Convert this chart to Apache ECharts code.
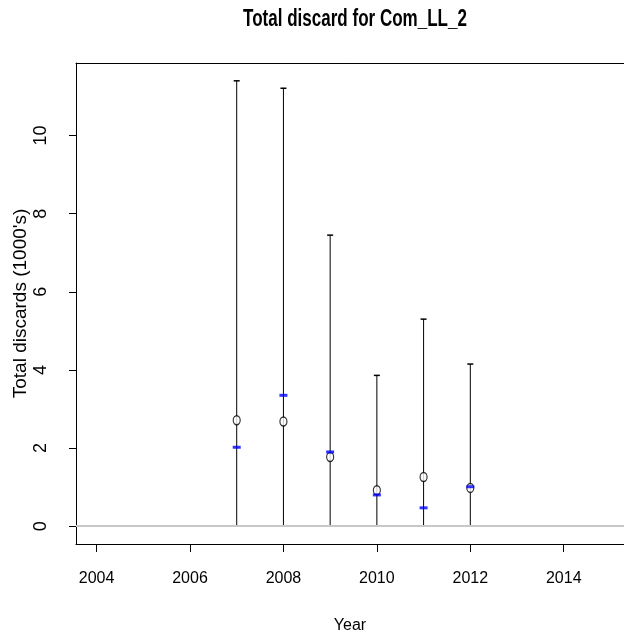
<!DOCTYPE html>
<html>
<head>
<meta charset="utf-8">
<script src="https://cdn.jsdelivr.net/npm/echarts@6/dist/echarts.min.js"></script>
<style>html,body{margin:0;padding:0;background:#fff}#c{width:624px;height:638px}</style>
</head>
<body>
<div id="c"></div>
<script>
var years = [2007, 2008, 2009, 2010, 2011, 2012];
var estimate = [2.71, 2.68, 1.77, 0.92, 1.26, 0.98];
var upper = [11.40, 11.21, 7.45, 3.86, 5.30, 4.15];
var lower = [0, 0, 0, 0, 0, 0];
var observed = [2.02, 3.35, 1.90, 0.80, 0.47, 1.01];
var xTicks = [2004, 2006, 2008, 2010, 2012, 2014];
var yTicks = [0, 2, 4, 6, 8, 10];

var sans = '"Liberation Sans", Arial, sans-serif';
var XMIN = 2003.56, XMAX = 2015.29;

var chart = echarts.init(document.getElementById('c'), null, {renderer: 'canvas'});

var barData = years.map(function (y, i) { return [y, lower[i], upper[i]]; });
var estData = years.map(function (y, i) { return [y, estimate[i]]; });
var obsData = years.map(function (y, i) { return [y, observed[i]]; });

chart.setOption({
  animation: false,
  backgroundColor: '#fff',
  graphic: [{
    type: 'text', x: 355, y: 20, scaleX: 0.74,
    style: {text: 'Total discard for Com_LL_2', font: 'bold 23px ' + sans, fill: '#000', textAlign: 'center', textVerticalAlign: 'middle'}
  }],
  grid: {left: 76, right: 0, top: 63, bottom: 94, show: false, containLabel: false, outerBoundsMode: 'none'},
  xAxis: [{
    type: 'value', min: XMIN, max: XMAX, position: 'bottom',
    name: 'Year', nameLocation: 'middle', nameGap: 74, nameMoveOverlap: false,
    nameTextStyle: {fontFamily: sans, fontSize: 16, color: '#000'},
    axisLine: {show: true, onZero: false, lineStyle: {color: '#000', width: 1}},
    axisTick: {show: true, length: 8, customValues: xTicks, lineStyle: {color: '#000'}},
    axisLabel: {customValues: xTicks, margin: 27, fontFamily: sans, fontSize: 16, color: '#000',
      formatter: function (v) { return String(v); }},
    splitLine: {show: false}
  }, {
    type: 'value', min: XMIN, max: XMAX, position: 'top',
    axisLine: {show: true, onZero: false, lineStyle: {color: '#000', width: 1}},
    axisTick: {show: false}, axisLabel: {show: false}, splitLine: {show: false}
  }],
  yAxis: {
    type: 'value', min: -0.456, max: 11.856,
    name: "Total discards (1000's)", nameLocation: 'middle', nameGap: 46, nameRotate: 90, nameMoveOverlap: false,
    nameTextStyle: {fontFamily: sans, fontSize: 19, color: '#000'},
    axisLine: {show: true, onZero: false, lineStyle: {color: '#000', width: 1}},
    axisTick: {show: true, length: 7, customValues: yTicks, lineStyle: {color: '#000'}},
    axisLabel: {customValues: yTicks, rotate: 90, margin: 26, fontFamily: sans, fontSize: 18, color: '#000'},
    splitLine: {show: false}
  },
  series: [
    {
      type: 'custom',
      data: barData,
      encode: {x: 0, y: [1, 2]},
      z: 2,
      renderItem: function (params, api) {
        var x = api.value(0);
        var lo = api.coord([x, api.value(1)]);
        var hi = api.coord([x, api.value(2)]);
        var cap = 3;
        return {
          type: 'group',
          children: [
            {type: 'line', shape: {x1: lo[0], y1: lo[1], x2: hi[0], y2: hi[1]}, style: {stroke: '#000', lineWidth: 1}},
            {type: 'line', shape: {x1: hi[0] - cap, y1: hi[1], x2: hi[0] + cap, y2: hi[1]}, style: {stroke: '#000', lineWidth: 1.5}}
          ]
        };
      },
      markLine: {
        silent: true, symbol: ['none', 'none'], label: {show: false},
        lineStyle: {color: '#c8c8c8', width: 2, type: 'solid'},
        data: [{yAxis: 0}],
        z: 5
      }
    },
    {
      type: 'scatter', data: estData, symbol: 'circle', symbolSize: [7, 9], z: 4,
      itemStyle: {color: '#fff', borderColor: '#000', borderWidth: 1.3}
    },
    {
      type: 'scatter', data: obsData, symbol: 'rect', symbolSize: [8, 3], z: 6,
      itemStyle: {color: '#0000ff'}
    }
  ]
});
</script>
</body>
</html>
